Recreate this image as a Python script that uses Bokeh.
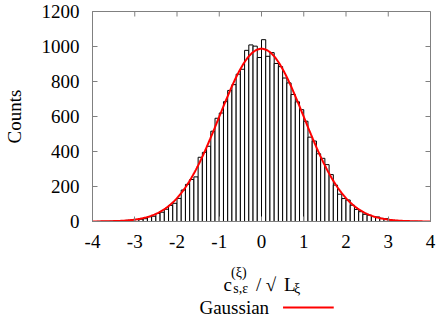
import numpy as np
from bokeh.plotting import figure
from bokeh.layouts import column
from bokeh.models import Range1d, FixedTicker
from bokeh.core.properties import value
from bokeh.embed import file_html
from bokeh.resources import INLINE

# ---- data -------------------------------------------------------------
bin_width = 0.1
bin_centers = np.round(np.arange(-3.95, 4.0, bin_width), 2)
counts = [
    0, 1, 1, 1, 2, 3, 4, 5, 7, 9,
    11, 13, 16, 27, 30, 46, 53, 70, 92, 104,
    132, 180, 212, 240, 255, 367, 395, 430, 516, 590,
    620, 685, 749, 782, 842, 870, 978, 1009, 1002, 937,
    1039, 944, 965, 903, 885, 820, 792, 726, 684, 639,
    573, 482, 460, 387, 361, 325, 268, 208, 156, 131,
    123, 93, 69, 56, 41, 36, 28, 26, 18, 16,
    8, 6, 4, 3, 2, 1, 1, 0, 0, 0,
]
gauss_amplitude = 987.0
gauss_mean = 0.0
gauss_sigma = 1.0

x_ticks = [-4, -3, -2, -1, 0, 1, 2, 3, 4]
x_tick_labels = ["-4", "-3", "-2", "-1", "0", "1", "2", "3", "4"]
y_ticks = [0, 200, 400, 600, 800, 1000, 1200]
y_tick_labels = ["0", "200", "400", "600", "800", "1000", "1200"]

gx = np.linspace(-4, 4, 400)
gy = gauss_amplitude * np.exp(-0.5 * ((gx - gauss_mean) / gauss_sigma) ** 2)

# ---- main figure ------------------------------------------------------
FONT = "Liberation Serif"
AXC = "#808080"
RED = "#ff0000"
W = 436

xr = Range1d(-4, 4)
p = figure(width=W, height=261, x_range=xr, y_range=Range1d(0, 1200),
           output_backend="svg", toolbar_location=None,
           min_border_left=91, min_border_right=6, min_border_top=11, min_border_bottom=40)
p.grid.visible = False
p.outline_line_color = AXC

p.vbar(x=bin_centers, top=counts, width=bin_width, bottom=0,
       fill_color="white", line_color="black", line_width=1)
p.line(gx, gy, line_color=RED, line_width=2)

# mirrored inward ticks on top and right border
p.ray(x=x_ticks, y=[1200] * len(x_ticks), length=5, length_units="screen",
      angle=-np.pi / 2, line_color=AXC, line_width=1)
p.ray(x=[4] * len(y_ticks), y=y_ticks, length=5, length_units="screen",
      angle=np.pi, line_color=AXC, line_width=1)

def style_axis(ax, ticks, labels):
    ax.ticker = FixedTicker(ticks=ticks)
    ax.major_label_overrides = {t: l for t, l in zip(ticks, labels)}
    ax.axis_line_color = AXC
    ax.major_tick_line_color = AXC
    ax.major_tick_in = 5
    ax.major_tick_out = 0
    ax.minor_tick_line_color = None
    ax.major_label_text_font = FONT
    ax.major_label_text_color = "black"
    ax.major_label_text_font_size = "19px"

xa = p.xaxis[0]
style_axis(xa, x_ticks, x_tick_labels)
xa.major_label_standoff = 13

ya = p.yaxis[0]
style_axis(ya, y_ticks, y_tick_labels)
ya.major_label_standoff = 13
ya.axis_label = "Counts"
ya.axis_label_text_font = FONT
ya.axis_label_text_font_style = "normal"
ya.axis_label_text_font_size = "19px"
ya.axis_label_text_color = "black"
ya.axis_label_standoff = 14

# ---- bottom strip: x title and legend (frame aligned with main plot) ---
H2 = 59
p2 = figure(width=W, height=H2, x_range=xr, y_range=Range1d(0, H2),
            output_backend="svg", toolbar_location=None,
            min_border_left=91, min_border_right=6, min_border_top=0, min_border_bottom=0)
p2.axis.visible = False
p2.grid.visible = False
p2.outline_line_color = None

def txt(x, y, s, size, align="left", baseline="alphabetic"):
    p2.text(x=[x], y=[y], text=[s], text_font=value(FONT), text_font_size=value(size),
            text_color="black", text_align=align, text_baseline=baseline)

txt(-0.90, 36, "c", "19px")
txt(-0.72, 48, "(ξ)", "14px")
txt(-0.67, 32, "s,ε", "14px")
txt(-0.13, 36, "/", "19px")
txt(0.10, 36, "√", "19px")
txt(0.53, 36, "L", "19px")
txt(0.77, 32, "ξ", "14px")

txt(0.18, 13, "Gaussian", "19px", align="right", baseline="middle")
p2.line([0.51, 1.71], [13, 13], line_color=RED, line_width=2)

open("out.html", "w").write(file_html(column(p, p2), INLINE))
